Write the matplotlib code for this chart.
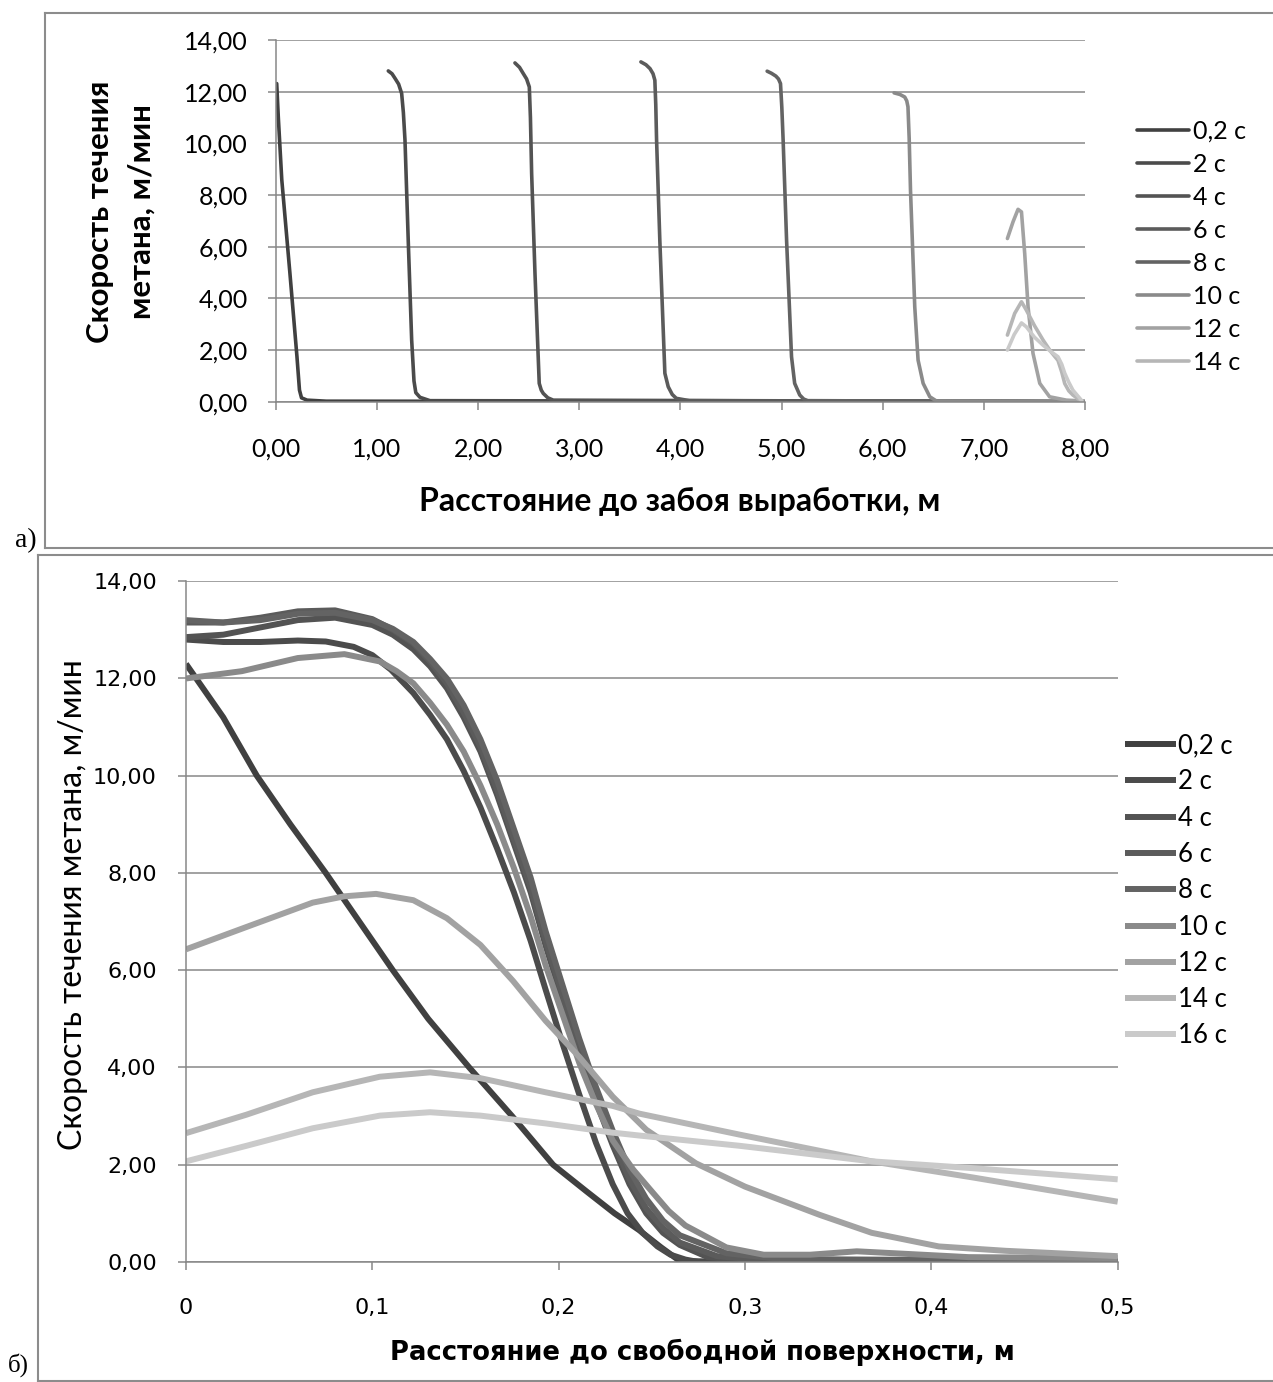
import matplotlib.pyplot as plt
from matplotlib.lines import Line2D

plt.rcParams['font.family'] = ['Lato', 'DejaVu Sans']

# ---- данные: а) расстояние до забоя выработки ----
top_labels = ['0,2 с', '2 с', '4 с', '6 с', '8 с', '10 с', '12 с', '14 с']

top_x_02 = [0.01, 0.026, 0.06, 0.14, 0.21, 0.235, 0.255, 0.31, 0.5, 8.0]
top_y_02 = [12.32, 11.0, 8.6, 5.0, 1.75, 0.45, 0.15, 0.06, 0.02, 0.0]
top_x_2 = [1.113, 1.15, 1.18, 1.215, 1.245, 1.262, 1.278, 1.31, 1.344, 1.367, 1.385, 1.426, 1.525, 8.0]
top_y_2 = [12.81, 12.7, 12.52, 12.3, 11.94, 11.2, 10.13, 6.26, 2.39, 0.8, 0.35, 0.17, 0.04, 0.0]
top_x_4 = [2.365, 2.41, 2.447, 2.48, 2.507, 2.518, 2.53, 2.563, 2.605, 2.625, 2.645, 2.69, 2.744, 8.0]
top_y_4 = [13.12, 12.95, 12.71, 12.5, 12.19, 11.0, 8.84, 4.97, 0.71, 0.45, 0.32, 0.15, 0.06, 0.0]
top_x_6 = [3.61, 3.66, 3.70, 3.73, 3.748, 3.757, 3.765, 3.797, 3.847, 3.88, 3.92, 3.96, 4.09, 8.0]
top_y_6 = [13.16, 13.05, 12.9, 12.7, 12.45, 11.5, 10.13, 6.26, 1.1, 0.58, 0.28, 0.13, 0.04, 0.0]
top_x_8 = [4.858, 4.9, 4.944, 4.97, 4.99, 5.003, 5.016, 5.05, 5.099, 5.13, 5.18, 5.22, 5.26, 8.0]
top_y_8 = [12.8, 12.72, 12.61, 12.5, 12.32, 11.4, 10.13, 6.26, 1.74, 0.71, 0.26, 0.1, 0.04, 0.0]
top_x_10 = [6.113, 6.17, 6.218, 6.238, 6.25, 6.262, 6.275, 6.317, 6.35, 6.4, 6.466, 6.53, 8.0]
top_y_10 = [11.96, 11.9, 11.8, 11.65, 11.42, 10.2, 8.19, 3.68, 1.61, 0.71, 0.19, 0.03, 0.0]
top_x_12 = [7.233, 7.289, 7.338, 7.372, 7.404, 7.437, 7.486, 7.553, 7.65, 7.816, 7.964]
top_y_12 = [6.32, 6.97, 7.45, 7.35, 5.74, 3.68, 1.87, 0.71, 0.19, 0.06, 0.03]
top_x_14 = [7.233, 7.305, 7.372, 7.42, 7.5, 7.585, 7.66, 7.733, 7.77, 7.8, 7.84, 7.88, 7.96]
top_y_14 = [2.58, 3.42, 3.87, 3.55, 2.95, 2.39, 1.95, 1.6, 1.15, 0.7, 0.42, 0.26, 0.03]
top_x_16 = [7.233, 7.30, 7.372, 7.42, 7.5, 7.585, 7.66, 7.733, 7.77, 7.8, 7.84, 7.88, 7.97]
top_y_16 = [2.0, 2.6, 3.05, 2.9, 2.5, 2.19, 1.95, 1.74, 1.45, 1.1, 0.75, 0.45, 0.03]

top_xticks = [0, 1, 2, 3, 4, 5, 6, 7, 8]
top_xticklabels = ['0,00', '1,00', '2,00', '3,00', '4,00', '5,00', '6,00', '7,00', '8,00']
yticks = [0, 2, 4, 6, 8, 10, 12, 14]
yticklabels = ['0,00', '2,00', '4,00', '6,00', '8,00', '10,00', '12,00', '14,00']

# ---- данные: б) расстояние до свободной поверхности ----
bot_labels = ['0,2 с', '2 с', '4 с', '6 с', '8 с', '10 с', '12 с', '14 с', '16 с']

bot_x_02 = [0, 0.02, 0.038, 0.056, 0.075, 0.093, 0.111, 0.13, 0.152, 0.175, 0.197,
            0.215, 0.23, 0.243, 0.255, 0.265, 0.3, 0.5]
bot_y_02 = [12.3, 11.2, 10.0, 9.0, 8.0, 7.0, 6.0, 5.0, 4.0, 3.0, 2.0,
            1.45, 1.0, 0.66, 0.3, 0.02, 0.0, 0.0]
bot_x_2 = [0, 0.02, 0.04, 0.06, 0.075, 0.09, 0.1, 0.11, 0.122, 0.131, 0.14, 0.149, 0.158,
           0.167, 0.176, 0.185, 0.193, 0.202, 0.211, 0.22, 0.229, 0.237, 0.245, 0.253,
           0.26, 0.268, 0.275, 0.5]
bot_y_2 = [12.8, 12.75, 12.75, 12.78, 12.76, 12.65, 12.48, 12.18, 11.7, 11.25, 10.75, 10.1, 9.35,
           8.5, 7.6, 6.6, 5.6, 4.5, 3.45, 2.45, 1.6, 1.0, 0.6, 0.32,
           0.15, 0.05, 0.0, 0.0]
bot_x_4 = [0, 0.02, 0.04, 0.06, 0.08, 0.1, 0.111, 0.122, 0.131, 0.14, 0.149, 0.158, 0.167,
           0.176, 0.185, 0.193, 0.202, 0.211, 0.22, 0.229, 0.238, 0.247, 0.256, 0.265,
           0.28, 0.3, 0.5]
bot_y_4 = [12.85, 12.9, 13.05, 13.2, 13.25, 13.1, 12.9, 12.6, 12.25, 11.8, 11.2, 10.5, 9.6,
           8.6, 7.6, 6.5, 5.4, 4.3, 3.3, 2.4, 1.6, 1.0, 0.6, 0.35,
           0.1, 0.02, 0.0]
bot_x_6 = [0, 0.02, 0.04, 0.06, 0.08, 0.1, 0.111, 0.122, 0.131, 0.14, 0.149, 0.158, 0.167,
           0.176, 0.185, 0.193, 0.202, 0.211, 0.22, 0.229, 0.238, 0.247, 0.256, 0.265,
           0.285, 0.31, 0.5]
bot_y_6 = [13.15, 13.15, 13.25, 13.38, 13.4, 13.22, 13.0, 12.72, 12.35, 11.9, 11.3, 10.6, 9.7,
           8.7, 7.7, 6.6, 5.5, 4.4, 3.4, 2.5, 1.7, 1.1, 0.7, 0.4,
           0.12, 0.03, 0.0]
bot_x_8 = [0, 0.02, 0.04, 0.06, 0.08, 0.1, 0.111, 0.122, 0.131, 0.14, 0.149, 0.158, 0.167,
           0.176, 0.185, 0.193, 0.202, 0.211, 0.22, 0.229, 0.238, 0.247, 0.256, 0.265,
           0.29, 0.32, 0.5]
bot_y_8 = [13.2, 13.15, 13.2, 13.33, 13.35, 13.2, 13.02, 12.75, 12.4, 12.0, 11.45, 10.75, 9.9,
           8.9, 7.9, 6.8, 5.7, 4.6, 3.6, 2.7, 1.9, 1.3, 0.85, 0.55,
           0.18, 0.06, 0.02]
bot_x_10 = [0, 0.03, 0.06, 0.085, 0.104, 0.113, 0.122, 0.131, 0.14, 0.149, 0.158, 0.167,
            0.176, 0.185, 0.193, 0.202, 0.211, 0.22, 0.229, 0.24, 0.25, 0.259, 0.268,
            0.29, 0.31, 0.335, 0.36, 0.385, 0.42, 0.5]
bot_y_10 = [12.0, 12.15, 12.42, 12.5, 12.35, 12.15, 11.9, 11.5, 11.05, 10.5, 9.8, 9.0,
            8.1, 7.1, 6.1, 5.1, 4.1, 3.25, 2.5, 1.9, 1.45, 1.05, 0.75,
            0.3, 0.15, 0.15, 0.22, 0.17, 0.1, 0.08]
bot_x_12 = [0, 0.0325, 0.068, 0.085, 0.102, 0.122, 0.14, 0.158, 0.1755, 0.193,
            0.211, 0.229, 0.247, 0.2736, 0.3, 0.34, 0.368, 0.404, 0.44, 0.5]
bot_y_12 = [6.43, 6.89, 7.39, 7.52, 7.57, 7.44, 7.07, 6.52, 5.78, 4.96,
            4.22, 3.4, 2.72, 2.03, 1.55, 0.97, 0.6, 0.32, 0.23, 0.12]
bot_x_14 = [0, 0.0325, 0.068, 0.104, 0.131, 0.158, 0.193, 0.229, 0.2434, 0.297,
            0.368, 0.422, 0.5]
bot_y_14 = [2.65, 3.03, 3.49, 3.81, 3.9, 3.78, 3.49, 3.21, 3.05, 2.62,
            2.07, 1.74, 1.24]
bot_x_16 = [0, 0.0325, 0.068, 0.104, 0.131, 0.158, 0.193, 0.229, 0.2434, 0.297,
            0.368, 0.422, 0.5]
bot_y_16 = [2.07, 2.39, 2.75, 3.01, 3.08, 3.01, 2.85, 2.66, 2.6, 2.39,
            2.07, 1.93, 1.70]

bot_xticks = [0, 0.1, 0.2, 0.3, 0.4, 0.5]
bot_xticklabels = ['0', '0,1', '0,2', '0,3', '0,4', '0,5']

greys = ['#404040', '#4b4b4b', '#535353', '#5b5b5b', '#636363',
         '#8a8a8a', '#a2a2a2', '#b6b6b6', '#cacaca']
grid_c = '#878787'

W, H = 1273, 1382
fig = plt.figure(figsize=(W / 100, H / 100), dpi=100)


def fx(px):
    return px / W


def fy(py):
    return 1 - py / H


def style_axes(ax):
    ax.set_ylim(0, 14)
    ax.set_yticks(yticks)
    ax.set_yticklabels(yticklabels)
    ax.yaxis.grid(True, color=grid_c, lw=1.1)
    ax.set_axisbelow(True)
    for s in ['top', 'right']:
        ax.spines[s].set_visible(False)
    for s in ['left', 'bottom']:
        ax.spines[s].set_color(grid_c)
        ax.spines[s].set_linewidth(1.1)
    ax.tick_params(direction='out', length=6, width=1.1, color=grid_c)


# ---------- а) ----------
ax1 = fig.add_axes([fx(275.7), fy(401.7), (1085 - 275.7) / W, (401.7 - 40.2) / H])
top_series = [(top_x_02, top_y_02), (top_x_2, top_y_2), (top_x_4, top_y_4),
              (top_x_6, top_y_6), (top_x_8, top_y_8), (top_x_10, top_y_10),
              (top_x_12, top_y_12), (top_x_14, top_y_14), (top_x_16, top_y_16)]
top_handles = []
for (xs, ys), c in zip(top_series, greys):
    ln, = ax1.plot(xs, ys, color=c, lw=2.6, solid_capstyle='round', solid_joinstyle='round')
    top_handles.append(ln)
ax1.set_xlim(0, 8)
ax1.set_xticks(top_xticks)
ax1.set_xticklabels(top_xticklabels)
style_axes(ax1)
ax1.tick_params(axis='x', labelsize=18, pad=20)
ax1.tick_params(axis='y', labelsize=18, pad=14)

ax1.legend(top_handles[:8], top_labels, loc='upper left',
           bbox_to_anchor=(fx(1137), fy(120)), bbox_transform=fig.transFigure,
           frameon=False, fontsize=18, handlelength=2.08, handletextpad=0.16,
           labelspacing=0.4, borderpad=0, borderaxespad=0)

fig.text(fx(680), fy(502), 'Расстояние до забоя выработки, м', ha='center', va='center',
         fontsize=23, fontweight='bold')
fig.text(fx(121), fy(212), 'Скорость течения\nметана, м/мин', ha='center', va='center',
         rotation=90, fontsize=22.5, fontweight='bold', linespacing=1.6, multialignment='center')

# ---------- б) ----------
ax2 = fig.add_axes([fx(186), fy(1262), (1117.7 - 186) / W, (1262 - 581.2) / H])
bot_series = [(bot_x_02, bot_y_02), (bot_x_2, bot_y_2), (bot_x_4, bot_y_4),
              (bot_x_6, bot_y_6), (bot_x_8, bot_y_8), (bot_x_10, bot_y_10),
              (bot_x_12, bot_y_12), (bot_x_14, bot_y_14), (bot_x_16, bot_y_16)]
bot_handles = []
for (xs, ys), c in zip(bot_series, greys):
    ln, = ax2.plot(xs, ys, color=c, lw=4.3, solid_capstyle='butt', solid_joinstyle='round')
    bot_handles.append(ln)
ax2.set_xlim(0, 0.5)
ax2.set_xticks(bot_xticks)
ax2.set_xticklabels(bot_xticklabels)
style_axes(ax2)
ax2.tick_params(axis='x', labelsize=16, pad=20)
ax2.tick_params(axis='y', labelsize=16, pad=15)
for lab in ax2.get_xticklabels() + ax2.get_yticklabels():
    lab.set_family('DejaVu Sans')

ax2.legend(bot_handles, bot_labels, loc='upper left',
           bbox_to_anchor=(fx(1125), fy(733)), bbox_transform=fig.transFigure,
           frameon=False, fontsize=18.5, handlelength=1.98, handletextpad=0.08,
           labelspacing=0.44, borderpad=0, borderaxespad=0)

fig.text(fx(702), fy(1352), 'Расстояние до свободной поверхности, м', ha='center',
         va='center', fontsize=18.6, fontweight='bold', family='DejaVu Sans')
fig.text(fx(73), fy(905), 'Скорость течения метана, м/мин', ha='center', va='center',
         rotation=90, fontsize=23)

# рамки и подписи панелей
fc = '#8c8c8c'
fig.add_artist(Line2D([fx(45), 1], [fy(12.5), fy(12.5)], color=fc, lw=1.5))
fig.add_artist(Line2D([fx(45), fx(45)], [fy(12.5), fy(547.5)], color=fc, lw=1.5))
fig.add_artist(Line2D([fx(45), 1], [fy(547.5), fy(547.5)], color=fc, lw=1.5))
fig.add_artist(Line2D([fx(38), 1], [fy(555), fy(555)], color=fc, lw=1.5))
fig.add_artist(Line2D([fx(38), fx(38)], [fy(555), fy(1381)], color=fc, lw=1.5))
fig.add_artist(Line2D([fx(38), 1], [fy(1381), fy(1381)], color=fc, lw=1.5))
fig.text(fx(15), fy(541), 'а)', ha='left', va='center', fontsize=20, family='Liberation Serif')
fig.text(fx(8), fy(1365), 'б)', ha='left', va='center', fontsize=18, family='Liberation Serif')

fig.savefig('out.png', dpi=100)
